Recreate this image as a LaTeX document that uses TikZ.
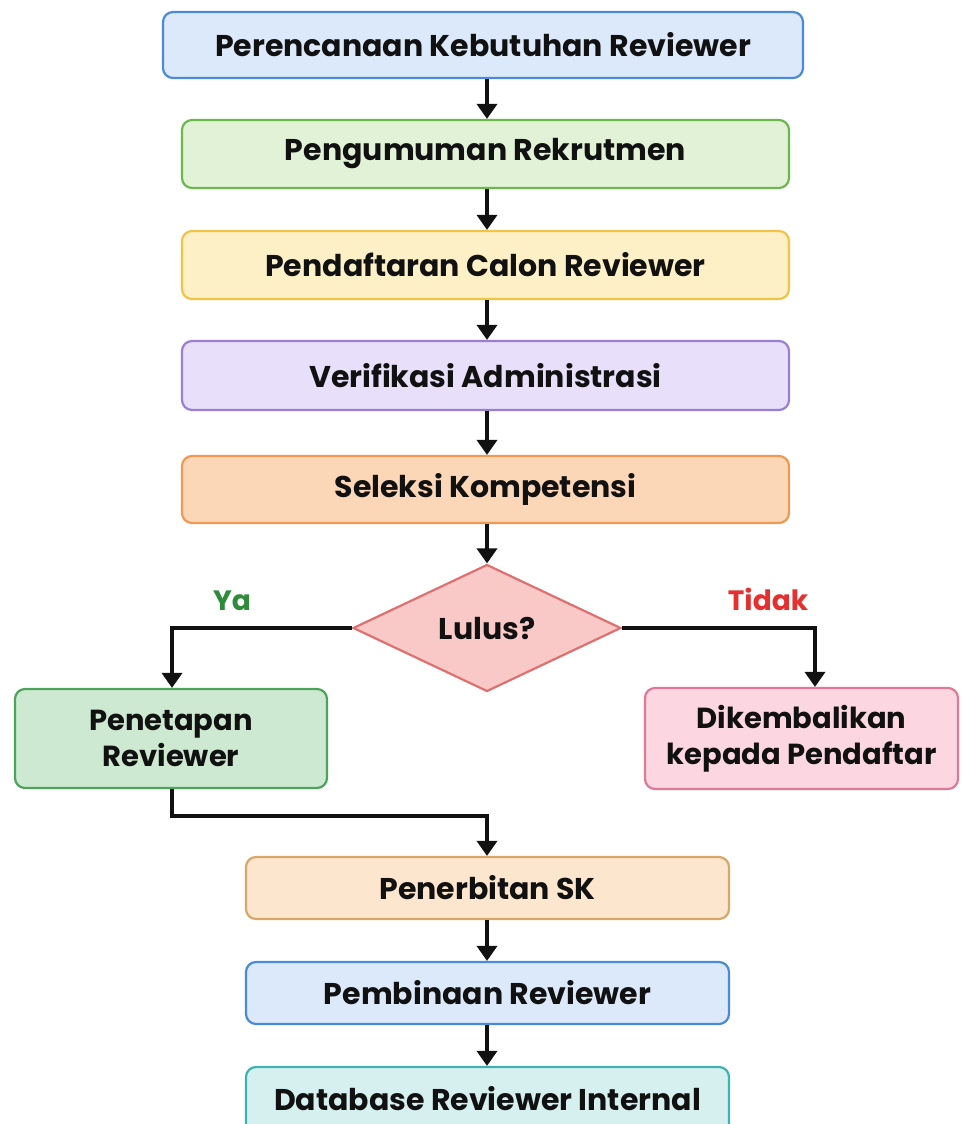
\documentclass[tikz,border=0pt]{standalone}
\usepackage{fontspec}
\setmainfont{Poppins}
\usetikzlibrary{arrows.meta,shapes.geometric}
\definecolor{bluef}{HTML}{DCE9FB}\definecolor{bluel}{HTML}{4A8AD8}
\definecolor{greenf}{HTML}{E1F2D7}\definecolor{greenl}{HTML}{6CB84F}
\definecolor{yelf}{HTML}{FDF0C6}\definecolor{yell}{HTML}{F2C445}
\definecolor{purf}{HTML}{E8DFFA}\definecolor{purl}{HTML}{9B7FD4}
\definecolor{oraf}{HTML}{FBD6B7}\definecolor{oral}{HTML}{EE9A55}
\definecolor{redf}{HTML}{F8C9C6}\definecolor{redl}{HTML}{E07070}
\definecolor{gref}{HTML}{CDE9D1}\definecolor{grel}{HTML}{4EA35A}
\definecolor{pinkf}{HTML}{FCD7E2}\definecolor{pinkl}{HTML}{E07898}
\definecolor{peachf}{HTML}{FDE6CE}\definecolor{peachl}{HTML}{D9A66A}
\definecolor{tealf}{HTML}{D6F0F0}\definecolor{teall}{HTML}{3FB3B3}
\definecolor{yagreen}{HTML}{2E8B3A}\definecolor{tidakred}{HTML}{E53030}
\definecolor{txt}{HTML}{111111}
\tikzset{
  box/.style={draw=#1l, fill=#1f, line width=2.2pt, rounded corners=10pt, text=txt,
    font=\fontsize{30}{36}\selectfont\bfseries, align=center, inner sep=0pt},
  twoline/.style={font=\fontsize{29}{36}\selectfont\bfseries},
  conn/.style={line width=3.6pt, draw=txt, -{Triangle[length=15pt,width=20pt]}},
  lbl/.style={font=\fontsize{28}{32}\selectfont\bfseries}
}
\begin{document}
\begin{tikzpicture}[x=1pt,y=-1pt]
\useasboundingbox (0,0) rectangle (961,1124);
\fill[white] (0,0) rectangle (961,1124);
\begin{scope}
\clip (0,0) rectangle (961,1124);
\node[box=blue, minimum width=640pt, minimum height=66pt] (b1) at (483,45) {Perencanaan Kebutuhan Reviewer};
\node[box=green, minimum width=607pt, minimum height=68pt] (b2) at (485.5,154) {Pengumuman Rekrutmen};
\node[box=yel, minimum width=607pt, minimum height=68pt] (b3) at (485.5,265) {Pendaftaran Calon Reviewer};
\node[box=pur, minimum width=607pt, minimum height=69pt] (b4) at (485.5,375.5) {Verifikasi Administrasi};
\node[box=ora, minimum width=607pt, minimum height=67pt] (b5) at (485.5,489.5) {Seleksi Kompetensi};
\node[diamond, draw=redl, fill=redf, line width=2.2pt, minimum width=268pt, minimum height=127pt, inner sep=0pt,
  text=txt, font=\fontsize{30}{36}\selectfont\bfseries] (dia) at (487,628) {Lulus?};
\node[box=gre, twoline, minimum width=312pt, minimum height=99pt] (pen) at (171,738.5) {Penetapan\\Reviewer};
\node[box=pink, twoline, minimum width=313pt, minimum height=101pt] (dik) at (801.5,738.5) {Dikembalikan\\kepada Pendaftar};
\node[box=peach, minimum width=483pt, minimum height=62pt] (sk) at (487.5,888) {Penerbitan SK};
\node[box=blue, minimum width=483pt, minimum height=62pt] (bin) at (487.5,993) {Pembinaan Reviewer};
\node[box=teal, minimum width=483pt, minimum height=70pt] (db) at (487.5,1102) {};
\node[text=txt, font=\fontsize{30}{36}\selectfont\bfseries] (dbt) at (487.5,1099) {Database Reviewer Internal};
\end{scope}
\node[lbl, text=yagreen] (ya) at (232,601) {Ya};
\node[lbl, text=tidakred] (tidak) at (768,599) {Tidak};
\draw[conn] (b1.south -| 487,0) -- (b2.north -| 487,0);
\draw[conn] (b2.south -| 487,0) -- (b3.north -| 487,0);
\draw[conn] (b3.south -| 487,0) -- (b4.north -| 487,0);
\draw[conn] (b4.south -| 487,0) -- (b5.north -| 487,0);
\draw[conn] (b5.south -| 487,0) -- (dia.north);
\draw[conn] (dia.west) -| ([xshift=1pt]pen.north);
\draw[conn] (dia.east) -| ([xshift=13.5pt]dik.north);
\draw[conn] ([xshift=1pt]pen.south) -- ++(0,27) -| (sk.north -| 487,0);
\draw[conn] (sk.south -| 487,0) -- (bin.north -| 487,0);
\draw[conn] (bin.south -| 487,0) -- (db.north -| 487,0);
\end{tikzpicture}
\end{document}
